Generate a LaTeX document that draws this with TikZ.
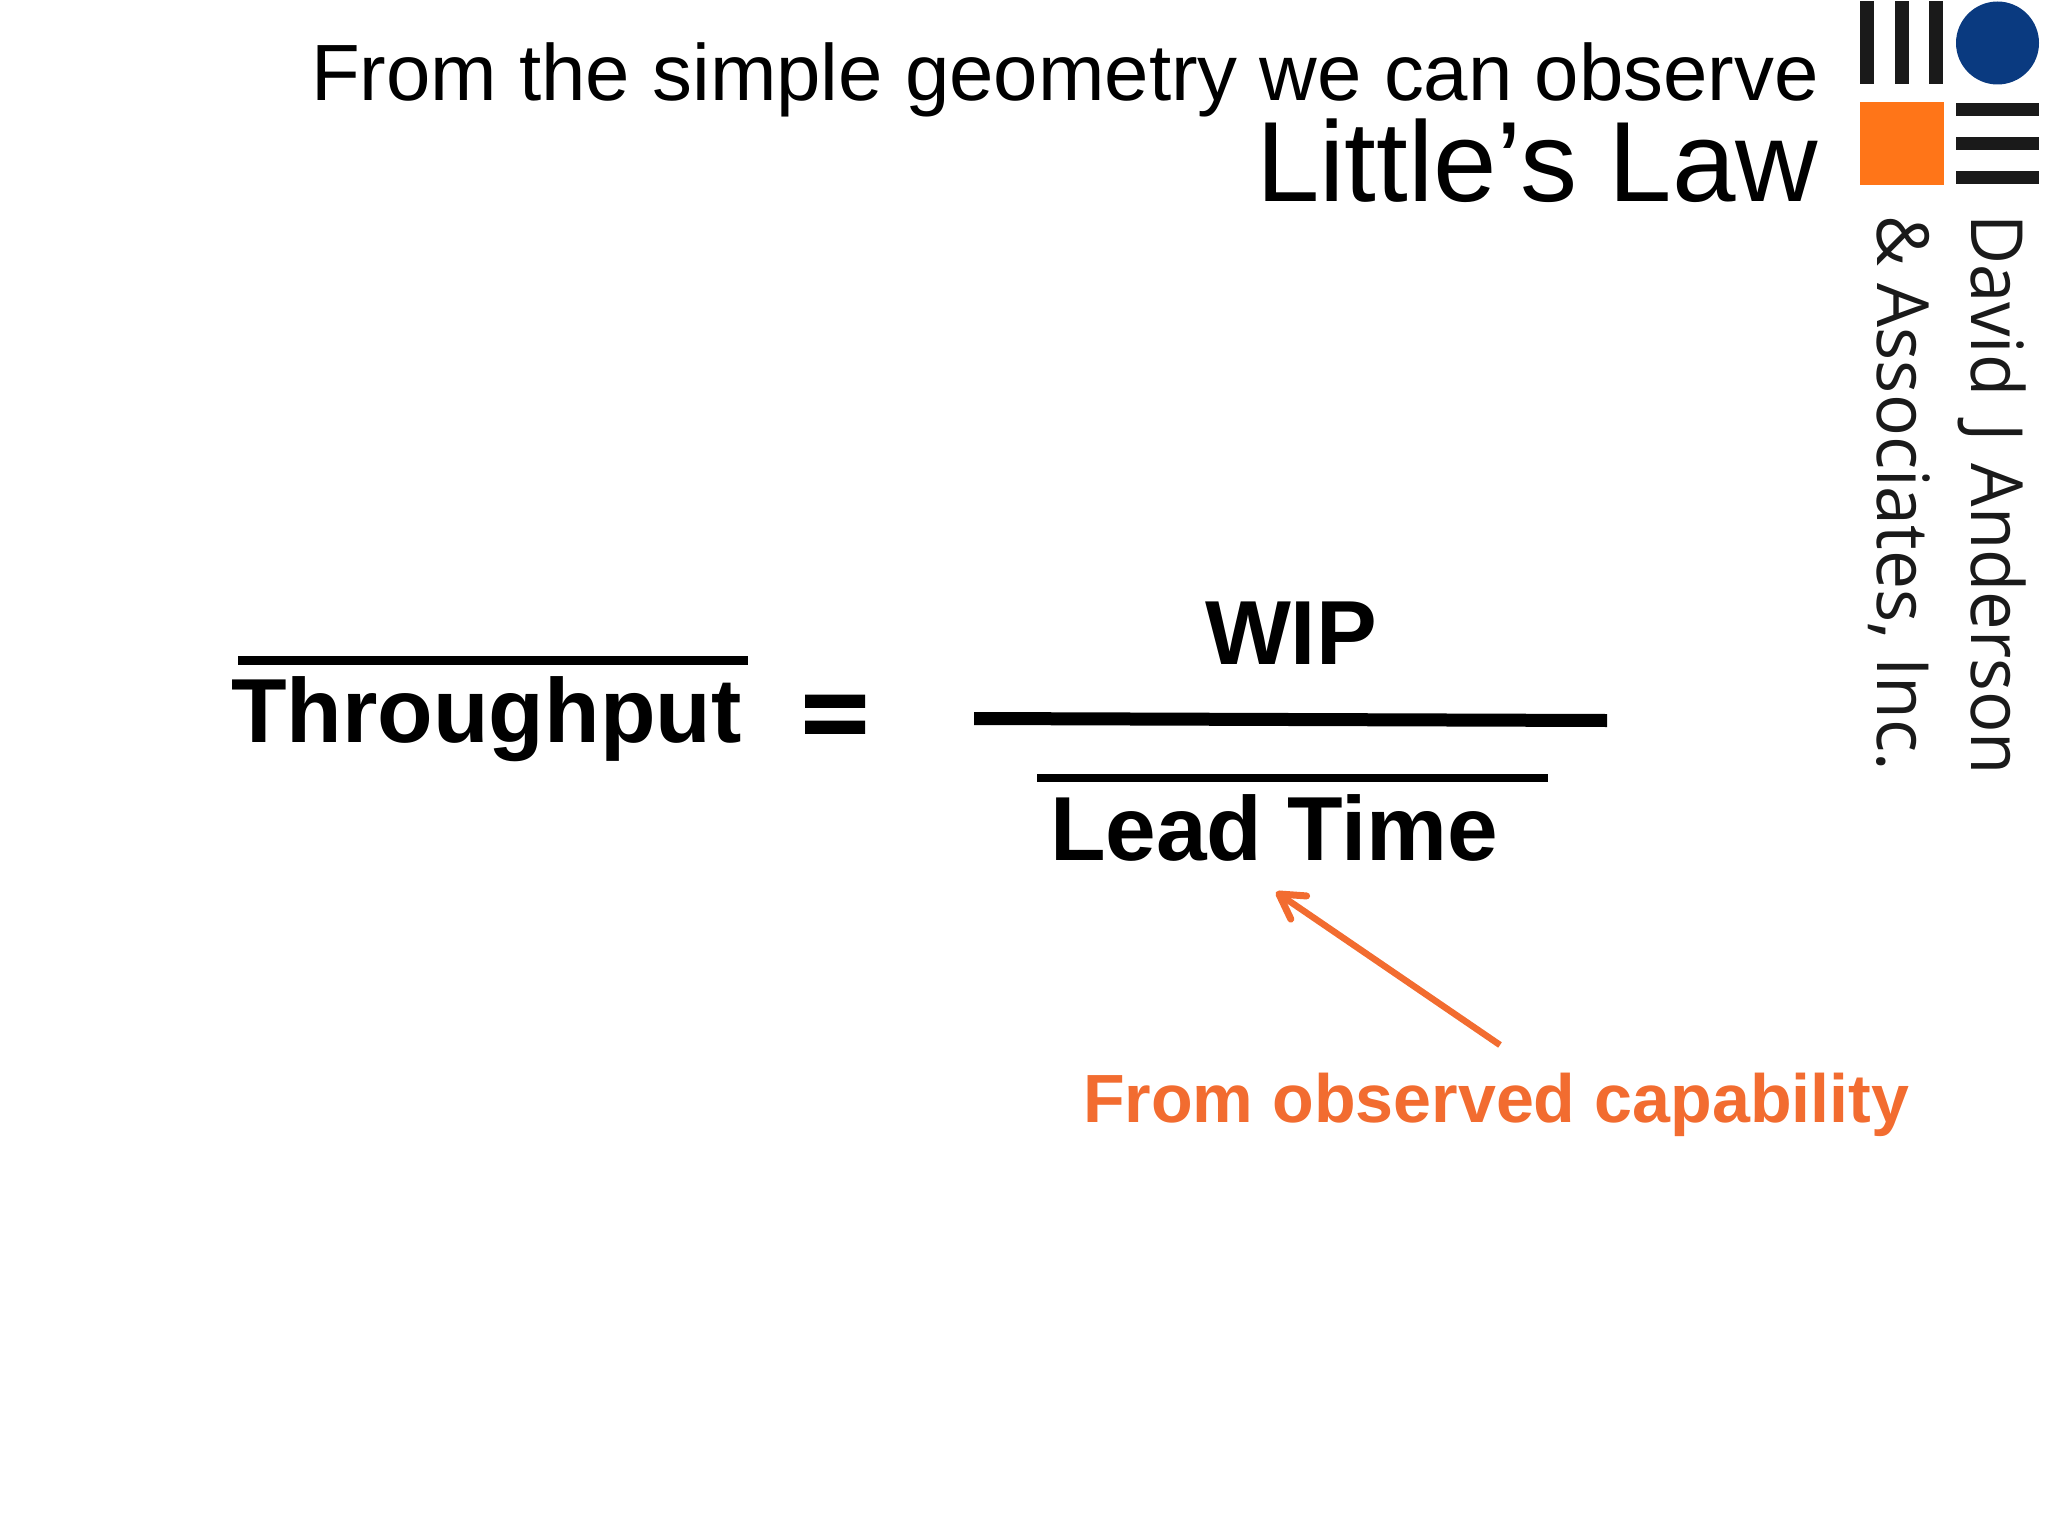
\documentclass[tikz,border=0pt]{standalone}
\usepackage{fontspec}
\setmainfont{Liberation Sans}
\newfontfamily\logofont{Open Sans}
\newfontfamily\eqsignfont[FakeBold=3]{Liberation Sans Bold}
\usetikzlibrary{arrows.meta}
\definecolor{logoblue}{HTML}{0A3A80}
\definecolor{logoorange}{HTML}{FF7518}
\definecolor{logoblack}{HTML}{1A1A1A}
\definecolor{noteorange}{HTML}{F26C30}
\newcommand{\fsz}[1]{\fontsize{#1}{#1}\selectfont}
\tikzset{
  txt/.style={inner sep=0pt,outer sep=0pt,anchor=base west,text=black},
  eqtxt/.style={txt,font=\fsz{91}\bfseries},
  logotxt/.style={txt,rotate=-90,font=\fsz{72}\logofont,text=logoblack},
  logobar/.style={fill=logoblack},
  arrowline/.style={draw=noteorange,line width=6.5pt,-{Straight Barb[length=24pt,width=28pt,line width=7pt,round]}}
}
\begin{document}
\begin{tikzpicture}[x=1pt,y=-1pt]
\useasboundingbox (0,0) rectangle (2048,1536);
% titles
\node[txt,font=\fsz{79.8}] (title) at (311,101) {From the simple geometry we can observe};
\node[txt,font=\fsz{114.1}] (law) at (1256,201) {Little’s Law};
% logo
\foreach \a in {1860,1895,1929}{\fill[logobar] (\a,1) rectangle (\a+14,84);}
\node[circle,fill=logoblue,minimum size=83pt,inner sep=0pt,outer sep=0pt] (dot) at (1997.5,43) {};
\fill[logoorange] (1860,102) rectangle (1944,185);
\foreach \b in {103,137,171}{\fill[logobar] (1956,\b) rectangle (2039,\b+13);}
\node[logotxt] (david) at (1971,214) {\scalebox{.955}[1]{David\hspace{10pt} J\hspace{4pt} Anderson}};
\node[logotxt] (assoc) at (1877,215) {\scalebox{.966}[1]{\& Associates, Inc.}};
% equation
\fill (238,656) rectangle (748,665);
\node[eqtxt] (tp) at (231,742) {Throughput};
\node[txt,font=\fsz{96}\eqsignfont] (eq) at (802,746) {\scalebox{1.18}[1]{=}};
\node[eqtxt] (wip) at (1205,664) {WIP};
\fill (974,712) -- (1607,714) -- (1607,727) -- (974,725) -- cycle;
\fill (1037,774) rectangle (1548,782);
\node[eqtxt] (lead) at (1050,860) {Lead Time};
% note
\node[txt,font=\fsz{68.2}\bfseries,text=noteorange] (note) at (1083,1122) {From observed capability};
\coordinate (arrowstart) at (1500,1045);
\coordinate (arrowtip) at (1276,892);
\draw[arrowline] (arrowstart) -- (arrowtip);
\end{tikzpicture}
\end{document}
